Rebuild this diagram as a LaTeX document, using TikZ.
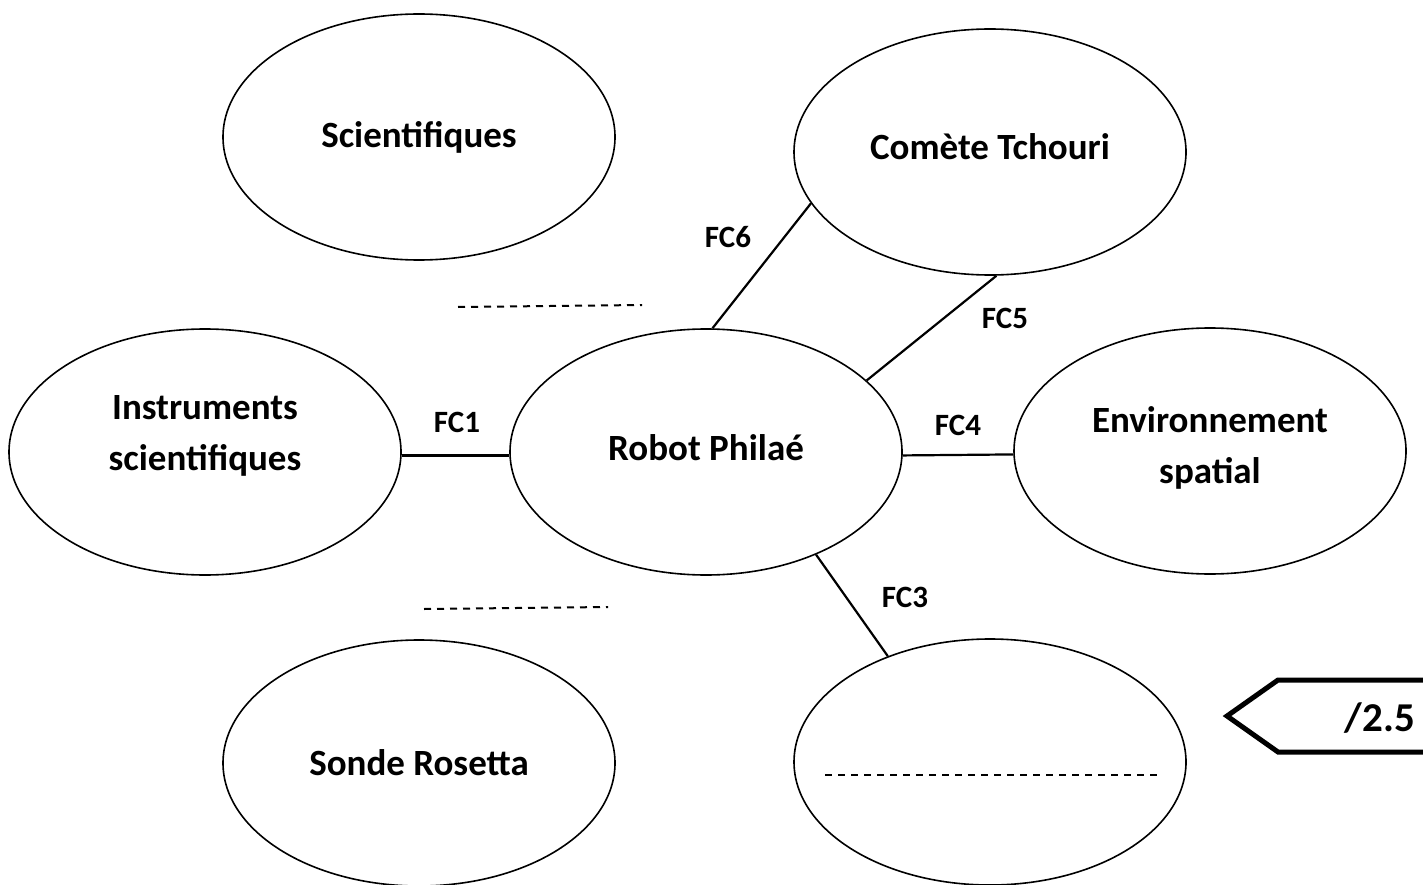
\documentclass[tikz,border=0pt]{standalone}
\usepackage{fontspec}
\setmainfont{Carlito}
\usetikzlibrary{shapes.geometric}
\begin{document}
\begin{tikzpicture}[x=1pt,y=-1pt,
  ell/.style={draw, ellipse, minimum width=392pt, minimum height=246pt, inner sep=0pt,
    line width=1.6pt, font=\fontsize{37}{51}\selectfont\bfseries, align=center},
  fc/.style={font=\fontsize{31}{36}\selectfont\bfseries, inner sep=0pt},
  conn/.style={line width=2.2pt},
  blank/.style={line width=2pt, dash pattern=on 7pt off 6pt}]
\clip (0,0) rectangle (1423,885);
\fill[white] (0,0) rectangle (1423,885);
% ellipses
\node[ell] (sci) at (419,137) {Scientifiques};
\node[ell] (com) at (990,152) {\raisebox{5pt}[\height][\depth]{Comète Tchouri}};
\node[ell] (ins) at (205,452) {\raisebox{17pt}[\height][\depth]{\begin{tabular}{@{}c@{}}Instruments\\scientifiques\end{tabular}}};
\node[ell] (rob) at (706,452) {\raisebox{4pt}[\height][\depth]{Robot Philaé}};
\node[ell] (env) at (1210,451) {\raisebox{3pt}[\height][\depth]{\begin{tabular}{@{}c@{}}Environnement\\spatial\end{tabular}}};
\node[ell] (son) at (419,763) {Sonde Rosetta};
\node[ell] (emp) at (990,762) {};
% connectors
\draw[conn] (ins.-1) -- (rob.181);
\draw[conn] (rob.-1) -- (env.181);
\draw[conn] (rob.87) -- (com.196);
\draw[conn] (rob.24) -- (com.273);
\draw[conn] (rob.-43) -- (emp.134);
% labels
\node[fc] (l1) at (457,422) {FC1};
\node[fc] (l4) at (958,425) {FC4};
\node[fc] (l6) at (728,237) {FC6};
\node[fc] (l5) at (1005,318) {FC5};
\node[fc] (l3) at (905,597) {FC3};
% blanks
\draw[blank] (458,307) -- (642,305);
\draw[blank] (424,609) -- (608,607);
\draw[blank] (825,775) -- (1157,775);
% score tag
\draw[line width=5pt, line join=miter] (1227,716) -- (1278,680) -- (1440,680) -- (1440,752) -- (1278,752) -- cycle;
\node[font=\fontsize{41}{48}\selectfont\bfseries, inner sep=0pt] (score) at (1380,718) {/2.5};
\end{tikzpicture}
\end{document}
